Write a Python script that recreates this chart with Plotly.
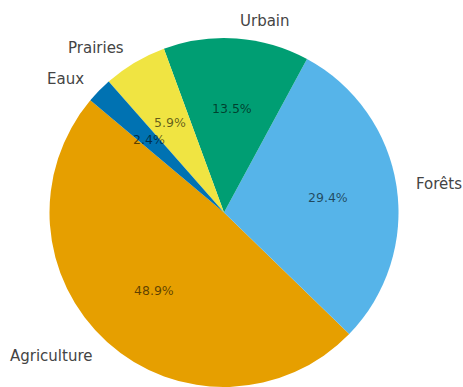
import math
import plotly.graph_objects as go

# Land-use shares (percent), drawn counterclockwise starting at 140 degrees
labels = ["Agriculture", "Forêts", "Urbain", "Prairies", "Eaux"]
values = [48.9, 29.4, 13.5, 5.9, 2.4]
colors = ["#E69F00", "#56B4E9", "#009E73", "#F0E442", "#0072B2"]

W, H = 463, 387
START_ANGLE = 140          # degrees, math convention
CX, CY, R = 224, 213, 175  # pie centre and radius in pixels
PCT_DIST, LABEL_DIST = 0.6, 1.1

total = sum(values)
# Plotly (counterclockwise) puts the far edge of the first slice at `rotation`,
# measured clockwise from 12 o'clock.
first_end = START_ANGLE + 360 * values[0] / total
rotation = (90 - first_end) % 360
if rotation > 180:
    rotation -= 360

fig = go.Figure(
    go.Pie(
        labels=labels,
        values=values,
        marker=dict(colors=colors, line=dict(width=0)),
        sort=False,
        direction="counterclockwise",
        rotation=rotation,
        textinfo="none",
        hoverinfo="label+percent",
        showlegend=False,
        domain=dict(x=[(CX - R) / W, (CX + R) / W],
                    y=[max(0, (H - CY - R) / H), (H - CY + R) / H]),
    )
)

annotations = []
angle = START_ANGLE
for lab, val in zip(labels, values):
    span = 360 * val / total
    mid = math.radians(angle + span / 2)
    angle += span
    c, s = math.cos(mid), math.sin(mid)
    # percentage inside the slice
    annotations.append(dict(
        x=(CX + PCT_DIST * R * c) / W, y=(H - CY + PCT_DIST * R * s) / H,
        xref="paper", yref="paper", text=f"{val:.1f}%", showarrow=False,
        xanchor="center", yanchor="middle",
        font=dict(family="DejaVu Sans", size=12.5, color="rgba(0,0,0,0.6)"),
    ))
    # category name outside the pie
    annotations.append(dict(
        x=(CX + LABEL_DIST * R * c) / W, y=(H - CY + LABEL_DIST * R * s) / H,
        xref="paper", yref="paper", text=lab, showarrow=False,
        xanchor="left" if c >= 0 else "right", yanchor="middle",
        font=dict(family="DejaVu Sans", size=15, color="#444444"),
    ))

fig.update_layout(
    width=W, height=H,
    margin=dict(l=0, r=0, t=0, b=0),
    paper_bgcolor="white", plot_bgcolor="white",
    annotations=annotations,
)

fig.write_html("out.html")
